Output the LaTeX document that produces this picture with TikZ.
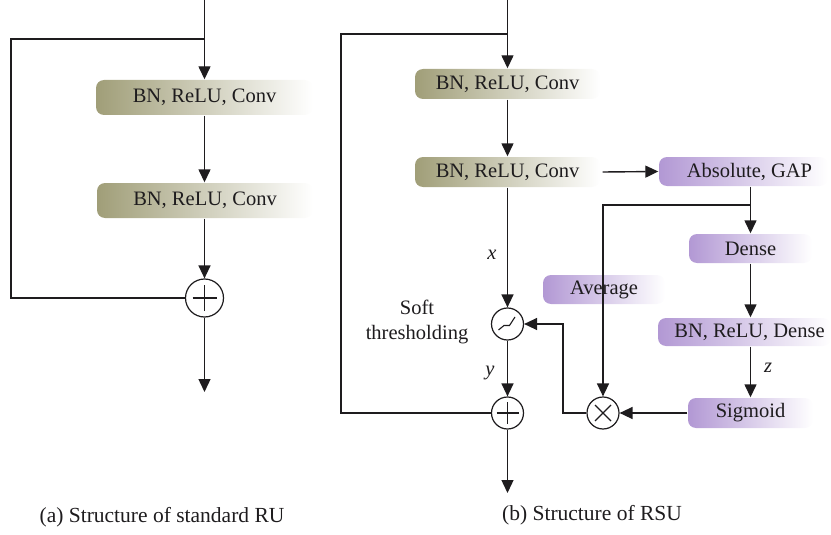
\documentclass[tikz,border=0pt]{standalone}
\usepackage{fontspec}
\setmainfont{Liberation Serif}
\usetikzlibrary{arrows.meta}
\definecolor{olv}{RGB}{160,158,120}
\definecolor{prp}{RGB}{178,152,212}
\definecolor{ink}{RGB}{30,28,30}
\begin{document}
\begin{tikzpicture}[x=1pt,y=-1pt,
  line width=1.4pt, draw=ink,
  txt/.style={font=\fontsize{20.5}{25}\selectfont, text=ink},
  olbox/.style={txt, rounded corners=8pt, left color=olv, right color=white, inner sep=0pt},
  prbox/.style={txt, rounded corners=8pt, left color=prp, right color=white, inner sep=0pt},
  opcirc/.style={circle, draw=ink, line width=1.2pt, fill=white, inner sep=0pt},
  arr/.style={-{Triangle[length=13pt,width=12pt]}},
  lbl/.style={txt, font=\fontsize{20.5}{25}\selectfont\itshape},
  captext/.style={font=\fontsize{21.5}{26}\selectfont, text=ink}
]
\useasboundingbox (0,0) rectangle (831,535);

% ---------------- (a) standard RU ----------------
\node[olbox, minimum width=217pt, minimum height=35pt] (a1) at (204.5,97.5) {BN, ReLU, Conv};
\node[olbox, minimum width=216pt, minimum height=35pt] (a2) at (205,200.5) {BN, ReLU, Conv};
\node[opcirc, minimum size=38pt] (pA) at (204.5,298) {};
\draw[line width=1.1pt] ([xshift=-12pt]pA.center) -- ([xshift=12pt]pA.center);
\draw[line width=1.1pt] ([yshift=-13pt]pA.center) -- ([yshift=13pt]pA.center);

\coordinate (aTop) at (204.5,0);
\coordinate (aBr) at (204.5,39);
\coordinate (aCorner) at (11,39);
\coordinate (aOut) at (204.5,392);

\draw[arr] (aTop) -- (a1.north);
\draw (aBr) -- (aCorner) |- (pA.west);
\draw[arr] (a1.south) -- (a2.north -| a1.south);
\draw[arr] (a2.south -| pA.north) -- (pA.north);
\draw[arr] (pA.south) -- (aOut);

\node[captext] (capA) at (162,517) {(a) Structure of standard RU};

% ---------------- (b) RSU ----------------
\node[olbox, minimum width=185pt, minimum height=30pt] (b1) at (507.5,84) {BN, ReLU, Conv};
\node[olbox, minimum width=185pt, minimum height=30pt] (b2) at (507.5,172) {BN, ReLU, Conv};
\node[prbox, minimum width=169pt, minimum height=29pt] (abs) at (743.5,171.5) {\hspace*{12pt}Absolute, GAP};
\node[prbox, minimum width=123pt, minimum height=29pt] (dn) at (750.5,248.5) {Dense};
\node[prbox, minimum width=122pt, minimum height=29pt] (avg) at (604,289.5) {Average};
\node[prbox, minimum width=173pt, minimum height=28pt] (bd) at (744.5,332) {\hspace*{10pt}BN, ReLU, Dense};
\node[prbox, minimum width=125pt, minimum height=30pt] (sig) at (750.5,413) {Sigmoid};

\node[opcirc, minimum size=32pt] (st) at (507.5,324) {};
\draw[line width=1.1pt] ([shift={(-9pt,-6pt)}]st.center) -- ([shift={(-3.5pt,-1.5pt)}]st.center)
   -- ([shift={(2pt,-1.5pt)}]st.center) -- ([shift={(7.5pt,7pt)}]st.center);
\node[opcirc, minimum size=32pt] (pB) at (507.5,413) {};
\draw[line width=1.1pt] ([xshift=-11pt]pB.center) -- ([xshift=11pt]pB.center);
\draw[line width=1.1pt] ([yshift=-11pt]pB.center) -- ([yshift=11pt]pB.center);
\node[opcirc, minimum size=32pt] (mul) at (603,413) {};
\draw[line width=1.1pt] ([shift={(-8pt,-8pt)}]mul.center) -- ([shift={(8pt,8pt)}]mul.center);
\draw[line width=1.1pt] ([shift={(-8pt,8pt)}]mul.center) -- ([shift={(8pt,-8pt)}]mul.center);

\coordinate (bTop) at (507.5,0);
\coordinate (bBr) at (507.5,34);
\coordinate (bCorner) at (341,34);
\coordinate (bOut) at (507.5,493);
\coordinate (gBr) at (750.5,205);
\coordinate (kink) at (563,413);

\draw[arr] (bTop) -- (b1.north);
\draw (bBr) -- (bCorner) |- (pB.west);
\draw[arr] (b1.south) -- (b2.north);
\draw[arr] (b2.south) -- (st.north);
\draw[arr] (st.south) -- (pB.north);
\draw[arr] (pB.south) -- (bOut);
\draw[arr] ([xshift=2pt]b2.east) -- (abs.west);
\draw[arr] (abs.south -| dn.north) -- (dn.north);
\draw[arr] (gBr) -| (mul.north);
\draw[arr] (dn.south) -- (dn.south |- bd.north);
\draw[arr] (sig.north |- bd.south) -- (sig.north);
\draw[arr] (sig.west) -- (mul.east);
\draw[arr] (mul.west) -- (kink) |- (st.east);

\node[lbl] (lx) at (492,255) {x};
\node[lbl] (ly) at (490,373) {y};
\node[lbl] (lz) at (768,368) {z};
\node[txt, align=center] (lst) at (417,322) {Soft\\thresholding};

\node[captext] (capB) at (592,515) {(b) Structure of RSU};
\end{tikzpicture}
\end{document}
